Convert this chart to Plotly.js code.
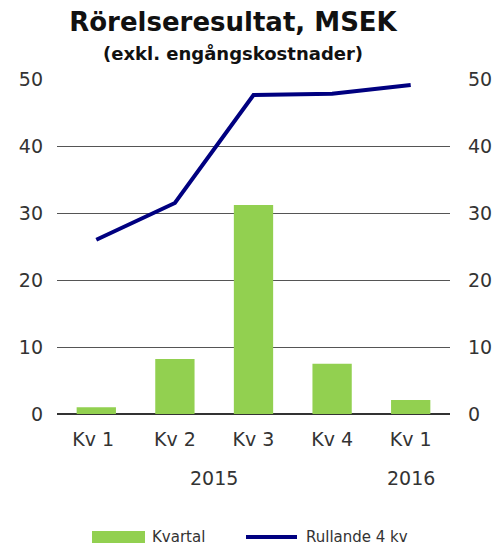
<!DOCTYPE html>
<html><head><meta charset="utf-8">
<script src="https://cdn.plot.ly/plotly-3.0.1.min.js"></script>
<style>html,body{margin:0;padding:0;background:#fff}</style>
</head><body>
<div id="chart" style="width:500px;height:546px"></div>
<script>
const categories = ["Kv 1 ", "Kv 2", "Kv 3", "Kv 4", "Kv 1"];
const kvartal = [1.0, 8.2, 31.2, 7.5, 2.1];
const rullande = [26.0, 31.5, 47.6, 47.8, 49.1];
const years = ["2015", "2016"];
const yearPos = [1.5, 4];
const legendNames = ["Kvartal", "Rullande 4 kv"];

const font = "DejaVu Sans, sans-serif";
const W = 500, H = 546, L = 57, R = 50, T = 79, B = 132;
const pw = W - L - R, ph = H - T - B;
const px = v => (v - L) / pw;          // pixel x -> paper
const py = v => (H - B - v) / ph;      // pixel y -> paper

const traces = [
  {type:"bar", x:[0,1,2,3,4], y:kvartal, name:legendNames[0], marker:{color:"#92D050"}, yaxis:"y"},
  {type:"scatter", mode:"lines", x:[0,1,2,3,4], y:rullande, name:legendNames[1], line:{color:"#000080", width:4}, yaxis:"y2"}
];
const layout = {
  width:W, height:H,
  margin:{l:L, r:R, t:T, b:B, autoexpand:false},
  paper_bgcolor:"#fff", plot_bgcolor:"#fff",
  bargap:0.5,
  showlegend:false,
  font:{family:font, color:"#333", size:19},
  title:{text:"<b>Rörelseresultat, MSEK</b>", x:233/W, xanchor:"center", y:1-22/H, yanchor:"middle", xref:"container", yref:"container", font:{size:26, color:"#111", family:font}},
  xaxis:{range:[-0.5,4.5], tickvals:[0,1,2,3,4], ticktext:categories, showgrid:false, zeroline:false, showline:false, ticks:"", ticklabelstandoff:12, tickfont:{size:19, color:"#333"}, fixedrange:true},
  yaxis:{range:[0,50], tickvals:[0,10,20,30,40,50], showgrid:true, gridcolor:"#555", gridwidth:1, zeroline:true, zerolinecolor:"#333", zerolinewidth:1.5, ticks:"", ticklabelstandoff:13, tickfont:{size:19, color:"#333"}, showline:false},
  yaxis2:{range:[0,50], overlaying:"y", side:"right", tickvals:[0,10,20,30,40,50], showgrid:false, zeroline:false, ticks:"", ticklabelstandoff:17, tickfont:{size:19, color:"#333"}},
  shapes:[
    {type:"rect", xref:"paper", yref:"paper", x0:px(92), x1:px(145), y0:py(543), y1:py(531), fillcolor:"#92D050", line:{width:0}},
    {type:"line", xref:"paper", yref:"paper", x0:px(246), x1:px(297), y0:py(537), y1:py(537), line:{color:"#000080", width:4}}
  ],
  annotations:[
    {text:"<b>(exkl. engångskostnader)</b>", xref:"paper", yref:"paper", x:px(233), y:py(53), xanchor:"center", yanchor:"middle", showarrow:false, font:{size:18, color:"#111", family:font}},
    {text:years[0], xref:"x", yref:"paper", x:yearPos[0], y:py(478), xanchor:"center", yanchor:"middle", showarrow:false, font:{size:19, color:"#333"}},
    {text:years[1], xref:"x", yref:"paper", x:yearPos[1], y:py(478), xanchor:"center", yanchor:"middle", showarrow:false, font:{size:19, color:"#333"}},
    {text:legendNames[0], xref:"paper", yref:"paper", x:px(150), y:py(537), xanchor:"left", yanchor:"middle", showarrow:false, font:{size:15, color:"#333"}},
    {text:legendNames[1], xref:"paper", yref:"paper", x:px(304), y:py(537), xanchor:"left", yanchor:"middle", showarrow:false, font:{size:15, color:"#333"}}
  ]
};
Plotly.newPlot("chart", traces, layout, {displayModeBar:false, staticPlot:true});
</script>
</body></html>
